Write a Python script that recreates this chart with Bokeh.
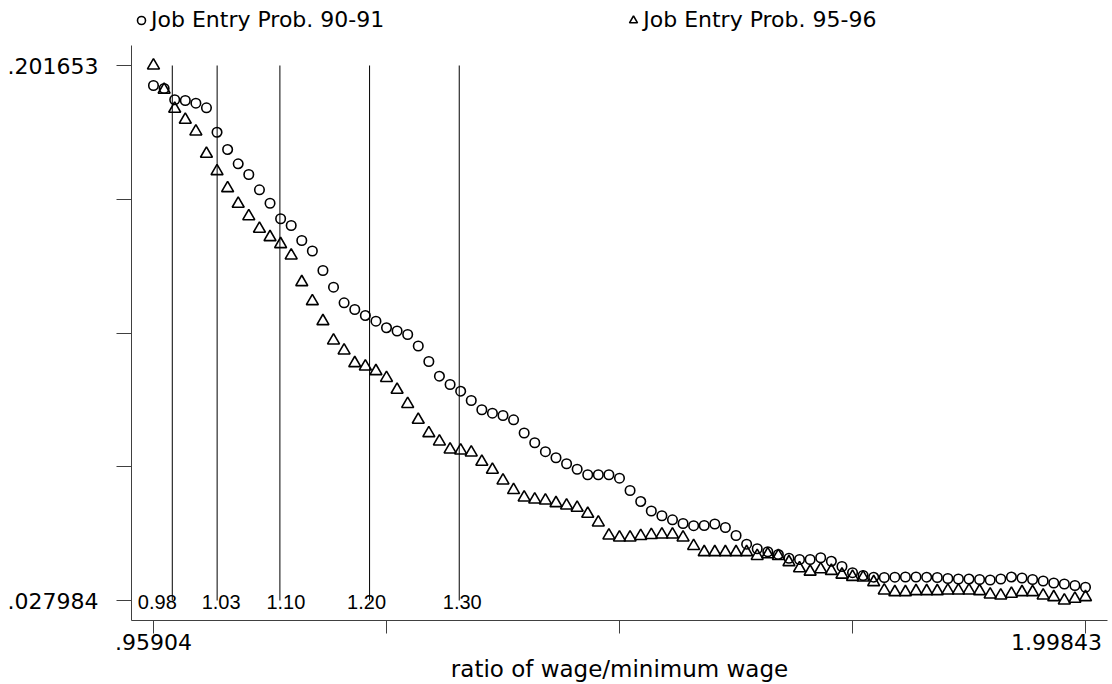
from bokeh.plotting import figure
from bokeh.models import Range1d, FixedTicker, Legend, LegendItem, LinearAxis, ColumnDataSource
from bokeh.embed import file_html
from bokeh.resources import INLINE
from bokeh.core.properties import value

# ---------------- data ----------------
wage_ratio = [
    0.9590, 0.9709, 0.9827, 0.9945, 1.0063, 1.0181, 1.0299, 1.0417, 1.0535, 1.0653,
    1.0772, 1.0890, 1.1008, 1.1126, 1.1244, 1.1362, 1.1480, 1.1598, 1.1716, 1.1835,
    1.1953, 1.2071, 1.2189, 1.2307, 1.2425, 1.2543, 1.2661, 1.2779, 1.2898, 1.3016,
    1.3134, 1.3252, 1.3370, 1.3488, 1.3606, 1.3724, 1.3842, 1.3961, 1.4079, 1.4197,
    1.4315, 1.4433, 1.4551, 1.4669, 1.4787, 1.4905, 1.5024, 1.5142, 1.5260, 1.5378,
    1.5496, 1.5614, 1.5732, 1.5850, 1.5968, 1.6087, 1.6205, 1.6323, 1.6441, 1.6559,
    1.6677, 1.6795, 1.6913, 1.7031, 1.7150, 1.7268, 1.7386, 1.7504, 1.7622, 1.7740,
    1.7858, 1.7976, 1.8094, 1.8213, 1.8331, 1.8449, 1.8567, 1.8685, 1.8803, 1.8921,
    1.9039, 1.9158, 1.9276, 1.9394, 1.9512, 1.9630, 1.9748, 1.9866, 1.9984,
]

entry_90_91 = [
    0.19516, 0.19419, 0.19052, 0.19029, 0.18942, 0.18792, 0.18000, 0.17439, 0.16974, 0.16627,
    0.16130, 0.15695, 0.15189, 0.14972, 0.14485, 0.14144, 0.13511, 0.12969, 0.12462, 0.12245,
    0.12050, 0.11865, 0.11651, 0.11547, 0.11433, 0.11060, 0.10557, 0.10080, 0.09810, 0.09593,
    0.09291, 0.08989, 0.08879, 0.08804, 0.08664, 0.08236, 0.07918, 0.07629, 0.07431, 0.07236,
    0.07058, 0.06879, 0.06879, 0.06879, 0.06769, 0.06369, 0.06012, 0.05704, 0.05551, 0.05418,
    0.05298, 0.05227, 0.05233, 0.05282, 0.05168, 0.04909, 0.04626, 0.04477, 0.04380, 0.04292,
    0.04169, 0.04130, 0.04130, 0.04185, 0.04074, 0.03902, 0.03701, 0.03610, 0.03555, 0.03545,
    0.03555, 0.03562, 0.03562, 0.03555, 0.03545, 0.03513, 0.03497, 0.03497, 0.03480, 0.03464,
    0.03497, 0.03562, 0.03529, 0.03480, 0.03432, 0.03367, 0.03334, 0.03286, 0.03230,
]

entry_95_96 = [
    0.201653, 0.19377, 0.18760, 0.18403, 0.18023, 0.17299, 0.16734, 0.16182, 0.15676, 0.15273,
    0.14864, 0.14592, 0.14365, 0.13998, 0.13131, 0.12514, 0.11865, 0.11239, 0.10914, 0.10502,
    0.10395, 0.10242, 0.10021, 0.09638, 0.09177, 0.08664, 0.08229, 0.07960, 0.07700, 0.07668,
    0.07603, 0.07301, 0.07041, 0.06694, 0.06382, 0.06142, 0.06077, 0.06045, 0.05957, 0.05882,
    0.05808, 0.05613, 0.05331, 0.04909, 0.04844, 0.04844, 0.04892, 0.04925, 0.04941, 0.04941,
    0.04844, 0.04568, 0.04367, 0.04367, 0.04367, 0.04367, 0.04367, 0.04243, 0.04298, 0.04243,
    0.04042, 0.03844, 0.03734, 0.03811, 0.03760, 0.03636, 0.03565, 0.03545, 0.03393, 0.03123,
    0.03068, 0.03068, 0.03101, 0.03101, 0.03101, 0.03123, 0.03123, 0.03123, 0.03101, 0.02993,
    0.02961, 0.03016, 0.03068, 0.03068, 0.02961, 0.02906, 0.027984, 0.02854, 0.02906,
]

ref_lines = [0.98, 1.03, 1.10, 1.20, 1.30]
ref_labels = ["0.98", "1.03", "1.10", "1.20", "1.30"]

y_ticks = [0.027984, 0.071401, 0.114818, 0.158236, 0.201653]
y_tick_labels = [".027984", "", "", "", ".201653"]
x_ticks = [0.95904, 1.218888, 1.478735, 1.738583, 1.99843]
x_tick_labels = [".95904", "", "", "", "1.99843"]

series_names = ["Job Entry Prob. 90-91", "Job Entry Prob. 95-96"]
x_title = "ratio of wage/minimum wage"

# ---------------- figure ----------------
FONT = "DejaVu Sans"
x_lo, x_hi = 0.93451, 2.02294
y_lo, y_hi = 0.021492, 0.222753      # frame reaches the top of the page (legend lives there)
y_axis_top = 0.208145                # where the drawn y axis line stops

p = figure(width=1112, height=684,
           x_range=Range1d(x_lo, x_hi), y_range=Range1d(y_lo, y_hi),
           output_backend="svg", toolbar_location=None,
           min_border_left=131, min_border_right=5,
           min_border_top=0, min_border_bottom=64)
p.outline_line_color = None
p.xgrid.visible = False
p.ygrid.visible = False
p.background_fill_color = "white"
p.border_fill_color = "white"

AX_COLOR = "#404040"

# main x axis: line + tick marks only
xa = p.xaxis[0]
xa.ticker = FixedTicker(ticks=x_ticks)
xa.axis_line_color = AX_COLOR
xa.major_tick_line_color = AX_COLOR
xa.major_tick_in = 0
xa.major_tick_out = 13
xa.minor_tick_line_color = None
xa.major_label_standoff = 8
xa.major_label_text_font_size = "1px"
xa.major_label_overrides = {t: "" for t in x_ticks}

# second x axis that carries the end labels and the title
# (the right-hand label is nudged left so that it stays inside the page)
label_shift = 0.03236
label_pos = [x_ticks[0], x_ticks[-1] - label_shift]
xl = LinearAxis(ticker=FixedTicker(ticks=label_pos),
                major_label_overrides={label_pos[0]: x_tick_labels[0],
                                       label_pos[1]: x_tick_labels[-1]},
                axis_line_color=None, major_tick_line_color=None,
                minor_tick_line_color=None, major_tick_in=0, major_tick_out=0,
                major_label_standoff=0,
                major_label_text_font=FONT, major_label_text_font_size="22px",
                major_label_text_color="black",
                axis_label=x_title, axis_label_standoff=3,
                axis_label_text_font=FONT, axis_label_text_font_size="23px",
                axis_label_text_font_style="normal", axis_label_text_color="black")
p.add_layout(xl, "below")

# y axis
ya = p.yaxis[0]
ya.ticker = FixedTicker(ticks=y_ticks)
ya.bounds = (y_lo, y_axis_top)
ya.axis_line_color = AX_COLOR
ya.major_tick_line_color = AX_COLOR
ya.major_tick_in = 0
ya.major_tick_out = 15
ya.minor_tick_line_color = None
ya.major_label_standoff = 18
ya.major_label_text_font = FONT
ya.major_label_text_font_size = "22px"
ya.major_label_text_color = "black"
ya.major_label_overrides = dict(zip(y_ticks, y_tick_labels))

# vertical reference lines
y_top = max(entry_95_96 + entry_90_91)
y_bot = min(entry_95_96 + entry_90_91)
p.segment(x0=ref_lines, y0=[y_bot] * len(ref_lines),
          x1=ref_lines, y1=[y_top] * len(ref_lines),
          line_color="black", line_width=1)

lab_src = ColumnDataSource(dict(x=ref_lines, y=[y_bot] * len(ref_lines),
                                text=ref_labels, dx=[-15, 4, 6, -3, 3]))
p.text(x="x", y="y", text="text", x_offset="dx", source=lab_src,
       text_align="center", text_baseline="middle", y_offset=1,
       text_font=value("Liberation Sans"), text_font_size="20px",
       text_color="black")

# data
r1 = p.scatter(wage_ratio, entry_90_91, marker="circle", size=9.5,
               fill_color=None, line_color="black", line_width=1.6)
r2 = p.scatter(wage_ratio, entry_95_96, marker="triangle", size=12,
               fill_color=None, line_color="black", line_width=1.6)

legend = Legend(items=[LegendItem(label=series_names[0], renderers=[r1]),
                       LegendItem(label=series_names[1], renderers=[r2])],
                orientation="horizontal", location=(0, 588),
                spacing=239, glyph_width=20, glyph_height=20,
                label_standoff=0, padding=0, margin=0,
                border_line_color=None, background_fill_alpha=0,
                label_text_font=FONT, label_text_font_size="22px",
                label_text_color="black")
p.add_layout(legend)

open("out.html", "w").write(file_html(p, INLINE))
